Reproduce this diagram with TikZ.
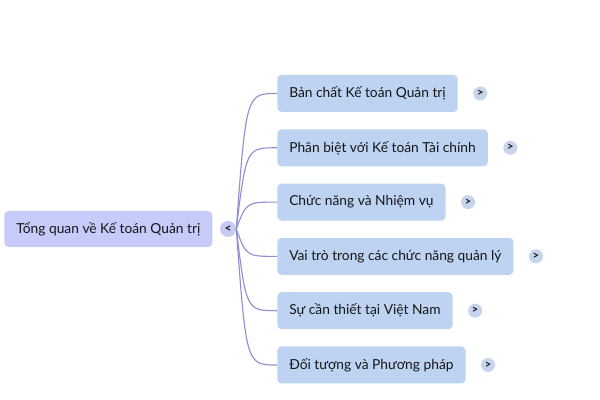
\documentclass[tikz,border=0pt]{standalone}
\usepackage{fontspec}
\setmainfont{Lato}
\usetikzlibrary{positioning,calc}

\definecolor{rootfill}{HTML}{C6CBFA}
\definecolor{leaffill}{HTML}{BDD3F1}
\definecolor{hubfill}{HTML}{C7CBF4}
\definecolor{morefill}{HTML}{C6D5EC}
\definecolor{linkcol}{HTML}{8E90D2}
\definecolor{textcol}{HTML}{161616}

\begin{document}
\begin{tikzpicture}[on grid,node distance=1.3575cm,
   topic/.style={rectangle,rounded corners=3pt,fill=rootfill,text=textcol,
      minimum height=0.9cm,inner xsep=0.3cm,font=\fontsize{9.8}{11}\selectfont},
   leaf/.style={rectangle,rounded corners=3pt,fill=leaffill,text=textcol,
      minimum height=0.925cm,inner xsep=0.3cm,font=\fontsize{9.8}{11}\selectfont},
   hub/.style={circle,fill=hubfill,text=textcol,minimum size=0.4cm,inner sep=0pt,
      font=\bfseries\fontsize{8.5}{9}\selectfont},
   more/.style={circle,fill=morefill,text=textcol,minimum size=0.35cm,inner sep=0pt,
      font=\bfseries\fontsize{8}{9}\selectfont},
   link/.style={draw=linkcol,line width=0.8pt}]
   \fill[white] (0,0) rectangle (15,10);
   \useasboundingbox (0,0) rectangle (15,10);
   \node[topic,anchor=west] (root) at (0.1,4.275) {Tổng quan về Kế toán Quản trị};
   \node[hub] (hub) at (5.7,4.275) {<};
   \node[leaf,anchor=west] (c1) at (6.925,7.6625) {Bản chất Kế toán Quản trị};
   \node[leaf] (c2) [below=of c1.west,anchor=west] {Phân biệt với Kế toán Tài chính};
   \node[leaf] (c3) [below=of c2.west,anchor=west] {Chức năng và Nhiệm vụ};
   \node[leaf] (c4) [below=of c3.west,anchor=west] {Vai trò trong các chức năng quản lý};
   \node[leaf] (c5) [below=of c4.west,anchor=west] {Sự cần thiết tại Việt Nam};
   \node[leaf] (c6) [below=of c5.west,anchor=west] {Đối tượng và Phương pháp};
   \node[more] (m1) [right=0.375cm of c1.east] {>};
   \node[more] (m2) [right=0.375cm of c2.east] {>};
   \node[more] (m3) [right=0.375cm of c3.east] {>};
   \node[more] (m4) [right=0.375cm of c4.east] {>};
   \node[more] (m5) [right=0.375cm of c5.east] {>};
   \node[more] (m6) [right=0.375cm of c6.east] {>};
   % curved links from the hub to each child
   \draw[link] (hub.east) .. controls ($(hub.east |- c1.west)+(0.25,0)$) .. (c1.west);
   \draw[link] (hub.east) .. controls ($(hub.east |- c2.west)+(0.25,0)$) .. (c2.west);
   \draw[link] (hub.east) .. controls ($(hub.east |- c3.west)+(0.25,0)$) .. (c3.west);
   \draw[link] (hub.east) .. controls ($(hub.east |- c4.west)+(0.25,0)$) .. (c4.west);
   \draw[link] (hub.east) .. controls ($(hub.east |- c5.west)+(0.25,0)$) .. (c5.west);
   \draw[link] (hub.east) .. controls ($(hub.east |- c6.west)+(0.25,0)$) .. (c6.west);
\end{tikzpicture}
\end{document}
